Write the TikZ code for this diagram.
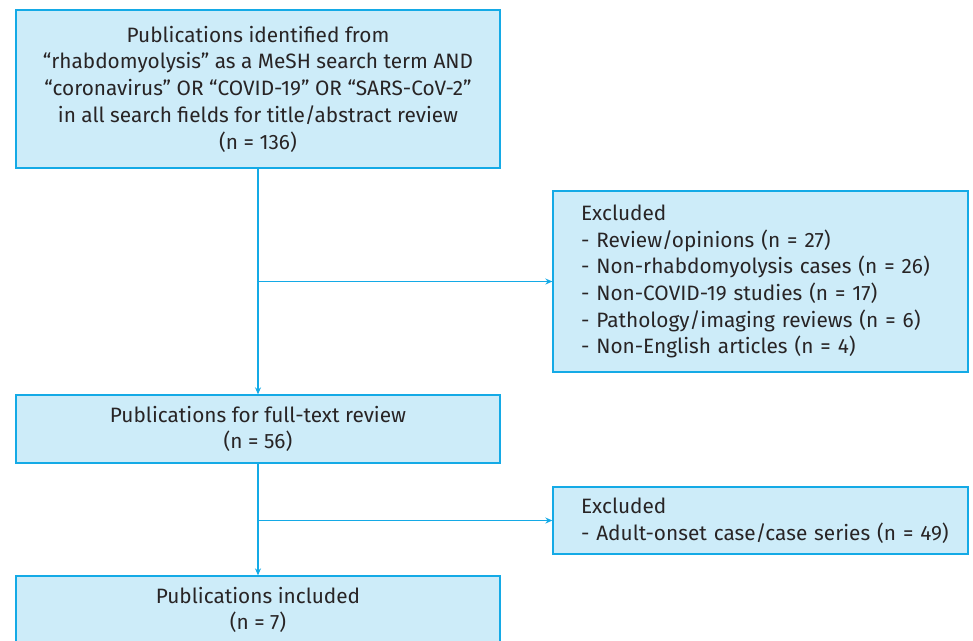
\documentclass[tikz,border=0pt]{standalone}
\usepackage{fontspec}
\setmainfont{Fira Sans}
\usetikzlibrary{arrows.meta,positioning,calc}
\definecolor{bc}{RGB}{205,236,249}
\definecolor{lc}{RGB}{20,170,230}
\definecolor{tc}{RGB}{40,36,37}
\tikzset{box/.style={draw=lc,fill=bc,line width=1.3pt,align=center,text=tc,inner sep=0pt,
   font=\fontsize{20.8}{26.7}\selectfont},
 main/.style={box,minimum width=484pt},
 excl/.style={box,align=left,text width=359pt,inner xsep=28pt,minimum width=415pt},
 arr/.style={-{Stealth[length=7pt,width=6pt]},draw=lc,line width=1.5pt}}

\begin{document}
\begin{tikzpicture}[x=1pt,y=-1pt]
\useasboundingbox (0,0) rectangle (973,640);
\clip (0,0) rectangle (973,640);
\node[main,minimum height=158pt] (ident) at (258,89) {Publications identified from\\``rhabdomyolysis'' as a MeSH search term AND\\``coronavirus'' OR ``COVID-19'' OR ``SARS-CoV-2''\\in all search fields for title/abstract review\\(n = 136)};
\node[excl,minimum height=181pt] (exone) at (760.5,281.5) {Excluded\\- Review/opinions (n = 27)\\- Non-rhabdomyolysis cases (n = 26)\\- Non-COVID-19 studies (n = 17)\\- Pathology/imaging reviews (n = 6)\\- Non-English articles (n = 4)};
\node[main,minimum height=68pt] (full) at (258,429) {Publications for full-text review\\(n = 56)};
\node[excl,minimum height=67pt] (extwo) at (760.5,520.5) {Excluded\\\mbox{- Adult-onset case/case series (n = 49)}};
\node[main,minimum height=68pt] (incl) at (258,610) {Publications included\\(n = 7)};
\coordinate (jone) at (ident.south |- exone.west);
\coordinate (jtwo) at (full.south |- extwo.west);
\draw[arr] (ident) -- (full);
\draw[arr] (jone) -- (exone);
\draw[arr] (full) -- (incl);
\draw[arr] (jtwo) -- (extwo);
\end{tikzpicture}
\end{document}
